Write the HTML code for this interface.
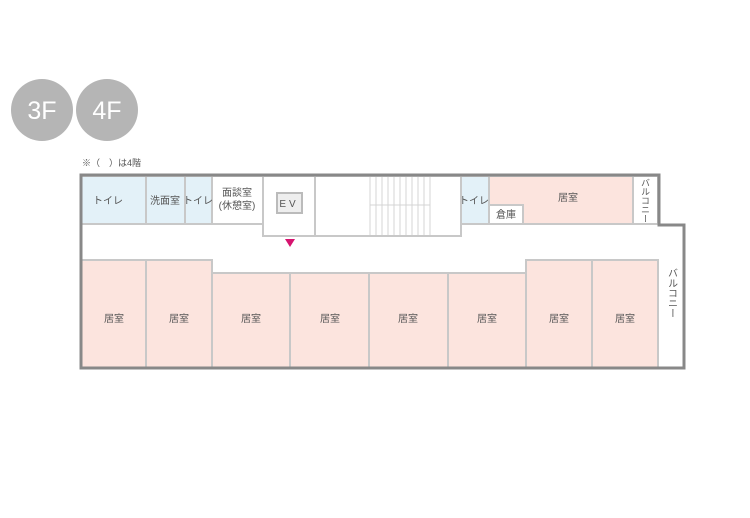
<!DOCTYPE html>
<html><head><meta charset="utf-8"><style>
body{margin:0;background:#fff;width:750px;height:518px;overflow:hidden}
svg{display:block}
text{font-family:"Liberation Sans","Noto Sans CJK JP",sans-serif;fill:#555;font-size:10px}
</style></head><body>
<svg width="750" height="518" viewBox="0 0 750 518">
<circle cx="42" cy="110" r="31" fill="#b5b5b5"/>
<circle cx="107" cy="110" r="31" fill="#b5b5b5"/>
<text x="42" y="119" text-anchor="middle" style="font-size:25px;fill:#fff">3F</text>
<text x="107" y="119" text-anchor="middle" style="font-size:25px;fill:#fff">4F</text>
<text x="82" y="166" style="font-size:9px">※（　）は4階</text>
<g stroke="#c8c8c8" stroke-width="2">
<rect x="81" y="176" width="65" height="48" fill="#e3f1f8"/>
<rect x="146" y="176" width="39" height="48" fill="#e3f1f8"/>
<rect x="185" y="176" width="27" height="48" fill="#e3f1f8"/>
<rect x="212" y="176" width="51" height="48" fill="#fff"/>
<rect x="263" y="176" width="52" height="60" fill="#fff"/>
<rect x="315" y="176" width="146" height="60" fill="#fff"/>
<rect x="461" y="176" width="28" height="48" fill="#e3f1f8"/>
<rect x="489" y="176" width="144" height="48" fill="#fce4de"/>
<rect x="489" y="205" width="34" height="19" fill="#fff"/>
<rect x="633" y="176" width="25" height="48" fill="#fff"/>
<rect x="81" y="260" width="65" height="108" fill="#fce4de"/>
<rect x="146" y="260" width="66" height="108" fill="#fce4de"/>
<rect x="212" y="273" width="78" height="95" fill="#fce4de"/>
<rect x="290" y="273" width="79" height="95" fill="#fce4de"/>
<rect x="369" y="273" width="79" height="95" fill="#fce4de"/>
<rect x="448" y="273" width="78" height="95" fill="#fce4de"/>
<rect x="526" y="260" width="66" height="108" fill="#fce4de"/>
<rect x="592" y="260" width="66" height="108" fill="#fce4de"/>
</g>
<rect x="277" y="193" width="25" height="20" fill="#eee" stroke="#bbb" stroke-width="2"/>
<g stroke="#d4d4d4" stroke-width="1">
<line x1="370" y1="177" x2="370" y2="235"/><line x1="376" y1="177" x2="376" y2="235"/>
<line x1="382" y1="177" x2="382" y2="235"/><line x1="388" y1="177" x2="388" y2="235"/>
<line x1="394" y1="177" x2="394" y2="235"/><line x1="400" y1="177" x2="400" y2="235"/>
<line x1="406" y1="177" x2="406" y2="235"/><line x1="412" y1="177" x2="412" y2="235"/>
<line x1="418" y1="177" x2="418" y2="235"/><line x1="424" y1="177" x2="424" y2="235"/>
<line x1="430" y1="177" x2="430" y2="235"/><line x1="370" y1="205" x2="430" y2="205"/>
</g>
<polygon points="285,239 295,239 290,247" fill="#d6136f"/>
<path d="M81,175 H659 V225 H684 V368 H81 Z" fill="none" stroke="#888" stroke-width="3"/>
<g text-anchor="middle">
<text x="108" y="204">トイレ</text>
<text x="165" y="204">洗面室</text>
<text x="198" y="204">トイレ</text>
<text x="237" y="196">面談室</text>
<text x="237" y="209">(休憩室)</text>
<text x="289" y="207" style="letter-spacing:3px">EV</text>
<text x="474" y="204">トイレ</text>
<text x="568" y="201">居室</text>
<text x="506" y="218">倉庫</text>
<text x="114" y="322">居室</text>
<text x="179" y="322">居室</text>
<text x="251" y="322">居室</text>
<text x="330" y="322">居室</text>
<text x="408" y="322">居室</text>
<text x="487" y="322">居室</text>
<text x="559" y="322">居室</text>
<text x="625" y="322">居室</text>
</g>
<text style="writing-mode:tb;font-size:9px" x="645" y="178">バルコニー</text>
<text style="writing-mode:tb;font-size:10px" x="671" y="268">バルコニー</text>
</svg>
</body></html>
